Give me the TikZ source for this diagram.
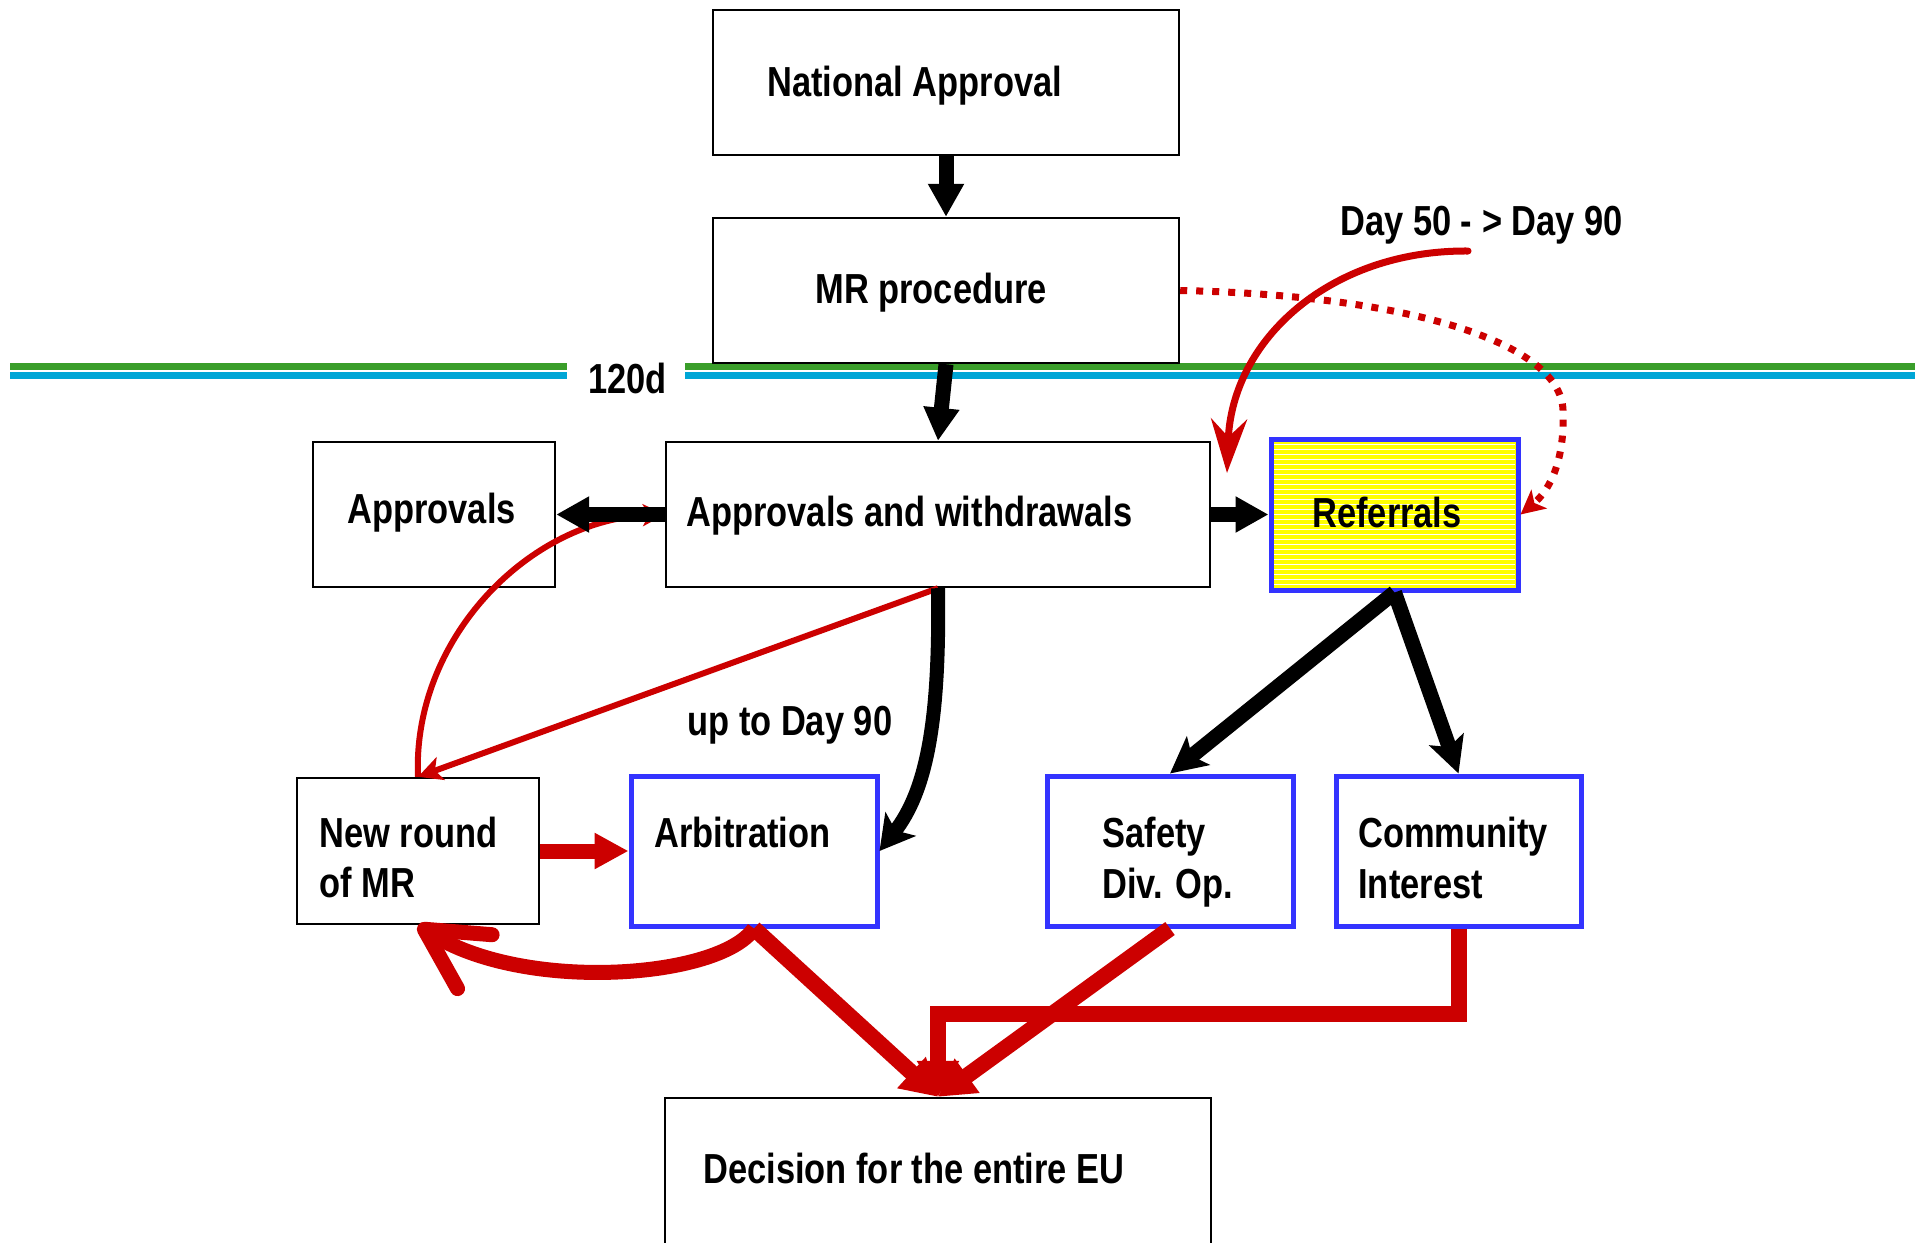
\documentclass[tikz,border=0pt]{standalone}
\usepackage{fontspec}
\setmainfont{Liberation Sans}[FakeStretch=0.82]
\usetikzlibrary{arrows.meta}
\definecolor{rd}{RGB}{204,0,0}
\definecolor{bl}{RGB}{51,51,255}
\definecolor{gr}{RGB}{58,158,42}
\definecolor{cy}{RGB}{0,166,214}
\definecolor{yl}{RGB}{255,255,0}
\tikzset{
  bbox/.style={draw=black, line width=1.2pt, fill=white, rectangle, inner sep=0pt},
  bluebox/.style={draw=bl, line width=2.5pt, fill=white, rectangle, inner sep=0pt},
  txt/.style={anchor=base west, inner sep=0pt, font=\fontsize{21}{25}\selectfont\bfseries},
  blkarrow/.style={draw=black, line width=7.5pt, -{Triangle[length=16.5pt,width=17pt]}},
  blkstealth/.style={draw=black, line width=7.5pt, -{Stealth[length=18pt,width=18pt,inset=4pt]}},
  redfat/.style={draw=rd, line width=7.5pt, -{Triangle[length=17pt,width=17pt]}},
  reddec/.style={draw=rd, line width=8pt, -{Triangle[length=18pt,width=20pt]}},
  redthin/.style={draw=rd, line width=3pt, -{Stealth[length=12pt,width=12pt,inset=3pt]}},
  timeline/.style={line width=3.5pt},
}
\begin{document}
\begin{tikzpicture}[x=0.5pt,y=-0.5pt]
\useasboundingbox (0,0) rectangle (1915,1242);
\clip (0,0) rectangle (1915,1242);
\fill[white] (0,0) rectangle (1915,1242);

% time lines
\draw[timeline, gr] (10,366.5) -- (567,366.5);
\draw[timeline, cy] (10,375.5) -- (567,375.5);
\draw[timeline, gr] (685,366.5) -- (1915,366.5);
\draw[timeline, cy] (685,375.5) -- (1915,375.5);
\node[txt] (t120) at (588,393) {120d};

% boxes
\node[bbox, minimum width=233pt, minimum height=72.5pt] (na) at (946,82.5) {};
\node[bbox, minimum width=233pt, minimum height=72.5pt] (mr) at (946,290.5) {};
\node[bbox, minimum width=121pt, minimum height=72.5pt] (ap) at (434,514.5) {};
\node[bbox, minimum width=272pt, minimum height=72.5pt] (aw) at (938,514.5) {};
\node[draw=bl, line width=2.5pt, fill=yl, rectangle, inner sep=0pt, minimum width=123.5pt, minimum height=75.5pt] (ref) at (1394.5,514.5) {};
\foreach \yy in {444,449,...,586} \draw[white, line width=0.5pt] (1274,\yy) -- (1515,\yy);
\node[bbox, minimum width=121pt, minimum height=73pt] (nr) at (418,851) {};
\node[bluebox, minimum width=123pt, minimum height=75pt] (arb) at (754,851) {};
\node[bluebox, minimum width=123pt, minimum height=75pt] (saf) at (1170,851) {};
\node[bluebox, minimum width=122.5pt, minimum height=75pt] (com) at (1458.5,851) {};
\node[bbox, minimum width=273pt, minimum height=100pt] (dec) at (938,1198) {};

% texts
\node[txt] (tna) at (767,96) {National Approval};
\node[txt] (tmr) at (815,303) {MR procedure};
\node[txt] (tap) at (347,523) {Approvals};
\node[txt] (taw) at (686,526) {Approvals and withdrawals};
\node[txt] (tref) at (1312,527) {Referrals};
\node[txt] (td50) at (1340,235) {Day 50 - > Day 90};
\node[txt] (tup) at (687,735) {up to Day 90};
\node[txt] (tnr1) at (319,847) {New round};
\node[txt] (tnr2) at (319,897) {of MR};
\node[txt] (tarb) at (654,847) {Arbitration};
\node[txt] (tsaf1) at (1102,847) {Safety};
\node[txt] (tsaf2) at (1102,898) {Div. Op.};
\node[txt] (tcom1) at (1358,847) {Community};
\node[txt] (tcom2) at (1358,898) {Interest};
\node[txt] (tdec) at (703,1183) {Decision for the entire EU};

% red connectors (under black ones)
\draw[draw=rd, line width=3pt, -{Stealth[length=11pt,width=11pt,inset=3pt]}]
  (nr.north) .. controls +(-6,-138) and +(-135,4) .. (aw.west);
\draw[redthin] (aw.south) -- (nr.north);
\draw[redfat] (nr.east) -- (arb.west);
\draw[draw=rd, line width=7.5pt, -{Straight Barb[length=30pt,width=32pt,round]}]
  (arb.south) .. controls +(-34,50) and +(106,68) .. (nr.south);
\draw[reddec] (arb.south) -- (dec.north);
\draw[reddec] (saf.south) -- (dec.north);
\draw[reddec] (com.south) -- ++(0,85) -| (dec.north);

% dotted and day-50 arrows
\draw[draw=rd, line width=3.5pt, dash pattern=on 3.5pt off 4.5pt, -{Stealth[length=12pt,width=12pt,inset=3pt]}]
  (mr.east) .. controls (1400,295) and (1560,340) .. (1563,410)
  .. controls (1565,460) and (1550,490) .. (ref.east);
\coordinate (d50s) at (1468,251);
\coordinate (d50e) at (1227,473);
\draw[draw=rd, line width=3.5pt, line cap=round, -{Stealth[length=27pt,width=18pt,inset=9pt]}]
  (d50s) .. controls (1330,250) and (1232,340) .. (d50e);

% black connectors
\draw[blkarrow] (na.south) -- (mr.north);
\draw[blkarrow] (mr.south) -- (aw.north);
\draw[blkarrow] (aw.west) -- (ap.east);
\draw[blkarrow] (aw.east) -- (ref.west);
\draw[draw=black, line width=7pt, -{Stealth[length=17pt,width=19pt,inset=4pt]}]
  (aw.south) .. controls +(2,133) and +(47,-60) .. (arb.east);
\draw[blkstealth] (ref.south) -- (saf.north);
\draw[blkstealth] (ref.south) -- (com.north);
\end{tikzpicture}
\end{document}
